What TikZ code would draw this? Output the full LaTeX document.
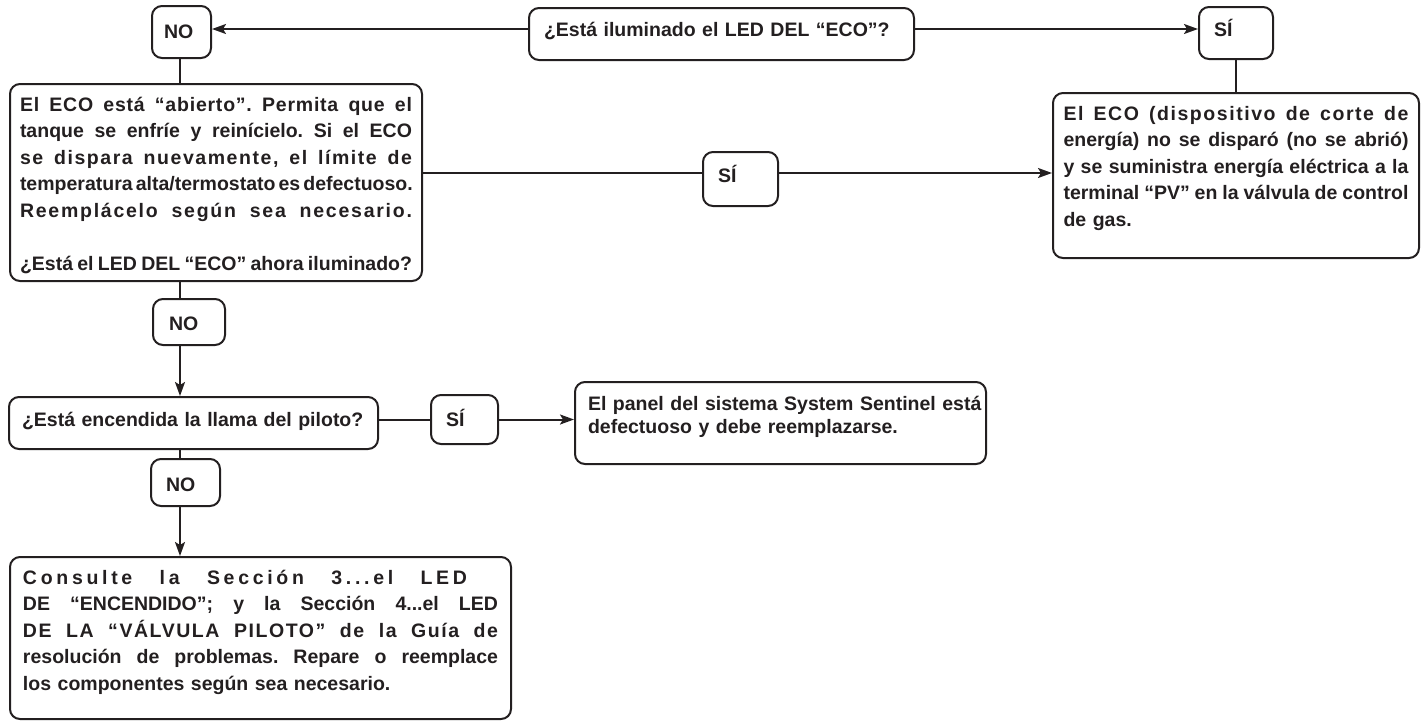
\documentclass[tikz,border=0pt]{standalone}
\usepackage{fontspec}
\setmainfont{Liberation Sans}
\usetikzlibrary{arrows.meta,positioning}
\definecolor{ink}{RGB}{35,31,32}

\newcommand{\fullline}[1]{\hbox to\hsize{\spaceskip=.278em plus 1fil minus .12em\relax #1}}
\newcommand{\spacedline}[2]{\hbox to\hsize{\addfontfeature{LetterSpace=#1}\spaceskip=.278em plus 1fil minus .12em\relax #2}}
\newcommand{\shortline}[1]{\hbox to\hsize{#1\hfil}}

\tikzstyle{box} = [rectangle, rounded corners=10pt, draw=ink, line width=2pt, text=ink, anchor=north west, inner ysep=0pt, font=\frenchspacing\bfseries\fontsize{19.5pt}{26.6pt}\selectfont]
\tikzstyle{arrow} = [line width=2pt, draw=ink, ->, >={Stealth[length=14pt,width=10pt,inset=3pt]}]
\tikzstyle{link} = [line width=2pt, draw=ink]

\begin{document}
\begin{tikzpicture}[x=1pt,y=-1pt]
  \useasboundingbox (0,0) rectangle (1424,721);

  % top row
  \node (NO Top) [box, text width=35pt, inner xsep=12pt, text height=32pt, text depth=20pt] at (151,5) {NO};
  \node (ECO Question) [box, text width=355pt, inner xsep=15pt, text height=28pt, text depth=24pt] at (528,7) {¿Está iluminado el LED DEL “ECO”?};
  \node (SI Top) [box, text width=44pt, inner xsep=15pt, text height=29pt, text depth=23pt] at (1198,6) {SÍ};

  % second row
  \node (ECO Open) [box, text width=392pt, inner xsep=10pt, text height=27pt, text depth=170pt] at (9,83) {%
    \spacedline{4}{El ECO está “abierto”. Permita que el}
    \fullline{tanque se enfríe y reinícielo. Si el ECO}
    \spacedline{8}{se dispara nuevamente, el límite de}
    \fullline{temperatura alta/termostato es defectuoso.}
    \spacedline{9}{Reemplácelo según sea necesario.}
    \shortline{}
    \fullline{¿Está el LED DEL “ECO” ahora iluminado?}};
  \node (SI Mid) [box, text width=45pt, inner xsep=15pt, text height=30pt, text depth=24pt] at (702,151) {SÍ};
  \node (ECO Ok) [box, text width=345pt, inner xsep=10.5pt, text height=27pt, text depth=138pt] at (1052,92) {%
    \spacedline{8}{El ECO (dispositivo de corte de}
    \fullline{energía) no se disparó (no se abrió)}
    \fullline{y se suministra energía eléctrica a la}
    \fullline{terminal “PV” en la válvula de control}
    \shortline{de gas.}};

  % pilot row
  \node (NO Mid) [box, text width=40pt, inner xsep=16pt, text height=31pt, text depth=15pt] at (152,298) {NO};
  \node (Pilot Question) [box, text width=343pt, inner xsep=13pt, text height=29pt, text depth=23pt] at (8,396) {¿Está encendida la llama del piloto?};
  \node (SI Low) [box, text width=37pt, inner xsep=15pt, text height=31pt, text depth=18pt] at (430,394) {SÍ};
  \node (Panel Faulty) [box, text width=385pt, inner xsep=13pt, text height=28pt, text depth=54pt, font=\frenchspacing\bfseries\fontsize{19.5pt}{23pt}\selectfont] at (574,381) {%
    \shortline{El panel del sistema System Sentinel está}
    \shortline{defectuoso y debe reemplazarse.}};

  % bottom
  \node (NO Low) [box, text width=39pt, inner xsep=15pt, text height=32pt, text depth=15pt] at (150,458) {NO};
  \node (Consult) [box, text width=475pt, inner xsep=13pt, text height=27pt, text depth=135pt] at (9,556) {%
    \hbox to 444pt{\addfontfeature{LetterSpace=19}\spaceskip=.278em plus 1fil\relax Consulte la Sección 3...el LED}
    \fullline{DE “ENCENDIDO”; y la Sección 4...el LED}
    \spacedline{8}{DE LA “VÁLVULA PILOTO” de la Guía de}
    \fullline{resolución de problemas. Repare o reemplace}
    \shortline{los componentes según sea necesario.}};

  \coordinate (Top Row) at (0,29);
  \coordinate (Mid Row) at (0,173);
  \coordinate (Left Col) at (180,0);

  \draw [arrow] (ECO Question.west |- Top Row) -- (NO Top.east |- Top Row);
  \draw [arrow] (ECO Question.east |- Top Row) -- (SI Top.west |- Top Row);
  \draw [link] (SI Top) -- (ECO Ok);
  \draw [link] (NO Top.south -| Left Col) -- (ECO Open.north -| Left Col);
  \draw [link] (ECO Open.east |- Mid Row) -- (SI Mid.west |- Mid Row);
  \draw [arrow] (SI Mid.east |- Mid Row) -- (ECO Ok.west |- Mid Row);
  \draw [link] (ECO Open.south -| Left Col) -- (NO Mid.north -| Left Col);
  \draw [arrow] (NO Mid.south -| Left Col) -- (Pilot Question.north -| Left Col);
  \draw [link] (Pilot Question.east |- SI Low.west) -- (SI Low.west);
  \draw [arrow] (SI Low.east) -- (SI Low.east -| Panel Faulty.west);
  \draw [link] (Pilot Question.south -| Left Col) -- (NO Low.north -| Left Col);
  \draw [arrow] (NO Low.south -| Left Col) -- (Consult.north -| Left Col);
\end{tikzpicture}
\end{document}
